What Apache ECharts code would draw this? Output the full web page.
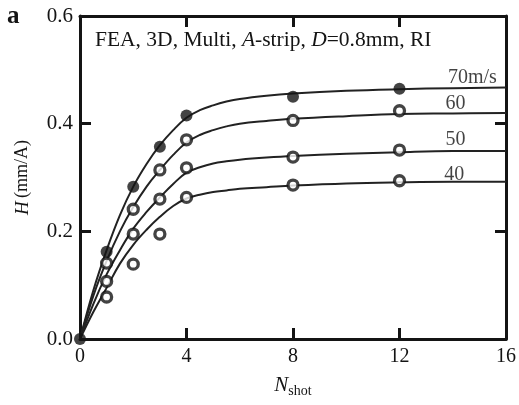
<!DOCTYPE html>
<html><head><meta charset="utf-8">
<script src="https://cdn.jsdelivr.net/npm/echarts@6/dist/echarts.min.js"></script>
<style>html,body{margin:0;padding:0;background:#fff}#c{width:519px;height:405px}</style>
</head><body><div id="c"></div>
<script>
// Tick values
const xTicks = [0, 4, 8, 12, 16];
const yTicks = [0, 0.2, 0.4, 0.6];
// Fitted curve sample abscissae and values
const curveN = [0, 0.5, 1, 1.5, 2, 2.5, 3, 3.5, 4, 4.5, 5, 5.5, 6, 7, 8, 10, 12, 14, 16];
const curve70 = [0, 0.09, 0.165, 0.23, 0.283, 0.325, 0.360, 0.388, 0.411, 0.425, 0.434, 0.441, 0.446, 0.452, 0.456, 0.461, 0.464, 0.466, 0.467];
const curve60 = [0, 0.08, 0.145, 0.20, 0.245, 0.283, 0.314, 0.342, 0.365, 0.379, 0.388, 0.395, 0.400, 0.405, 0.409, 0.414, 0.418, 0.419, 0.420];
const curve50 = [0, 0.065, 0.12, 0.165, 0.205, 0.236, 0.263, 0.288, 0.309, 0.319, 0.326, 0.330, 0.333, 0.337, 0.340, 0.344, 0.347, 0.349, 0.349];
const curve40 = [0, 0.05, 0.095, 0.14, 0.175, 0.203, 0.227, 0.247, 0.261, 0.268, 0.273, 0.276, 0.279, 0.282, 0.285, 0.289, 0.291, 0.292, 0.292];
// Simulation points
const pointN = [1, 2, 3, 4, 8, 12];
const pts70 = [0.162, 0.283, 0.357, 0.415, 0.450, 0.465];
const pts60 = [0.141, 0.241, 0.314, 0.370, 0.406, 0.424];
const pts50 = [0.107, 0.195, 0.260, 0.318, 0.338, 0.351];
const pts40 = [0.078, 0.139, 0.195, 0.263, 0.286, 0.294];
const origin = [[0, 0]];
// Curve labels
const labelText = ['70m/s', '60', '50', '40'];
const labelN = [14.74, 14.1, 14.1, 14.06];
const labelH = [0.485, 0.437, 0.370, 0.305];

const FONT = '"Liberation Serif","DejaVu Serif",serif';
const INK = '#141414';
const zip = (xs, ys) => xs.map((x, i) => [x, ys[i]]);

const chart = echarts.init(document.getElementById('c'), null, {renderer: 'canvas'});

function curve(vals) {
  return {type: 'line', data: zip(curveN, vals), smooth: 0.4, showSymbol: false, silent: true,
    lineStyle: {color: '#222', width: 2}, z: 2, xAxisIndex: 0, yAxisIndex: 0};
}
function pts(vals, filled) {
  return {type: 'scatter', data: zip(pointN, vals), symbol: 'circle', symbolSize: filled ? 12 : 10,
    itemStyle: {color: filled ? INK : '#fff', borderColor: INK, borderWidth: filled ? 0 : 3.3}, z: 3,
    xAxisIndex: 0, yAxisIndex: 0};
}
const axisLineStyle = {lineStyle: {color: INK, width: 3}};
const tickStyle = {show: true, inside: true, length: 11, lineStyle: {color: INK, width: 3}};

chart.setOption({
  animation: false,
  backgroundColor: '#fff',
  grid: {left: 80, right: 13, top: 16, bottom: 66, containLabel: false},
  xAxis: [
    {type: 'value', min: 0, max: 16, interval: 4, position: 'bottom',
     axisLine: {show: true, onZero: false, ...axisLineStyle}, axisTick: tickStyle,
     splitLine: {show: false},
     axisLabel: {fontFamily: FONT, fontSize: 20, color: INK, margin: 8},
     name: '{n|N}{s|shot}', nameLocation: 'middle', nameGap: 33,
     nameTextStyle: {rich: {
       n: {fontFamily: FONT, fontSize: 21, fontStyle: 'italic', color: INK},
       s: {fontFamily: FONT, fontSize: 14, color: INK, verticalAlign: 'bottom', padding: [12, 0, 0, 0]}}}},
    {type: 'value', min: 0, max: 16, interval: 4, position: 'top',
     axisLine: {show: true, onZero: false, ...axisLineStyle}, axisTick: tickStyle,
     splitLine: {show: false}, axisLabel: {show: false}}
  ],
  yAxis: [
    {type: 'value', min: 0, max: 0.6, interval: 0.2, position: 'left',
     axisLine: {show: true, onZero: false, ...axisLineStyle}, axisTick: tickStyle,
     splitLine: {show: false},
     axisLabel: {fontFamily: FONT, fontSize: 21, color: INK, margin: 7,
       formatter: v => v.toFixed(1)},
     name: '{h|H} {t|(mm/A)}', nameLocation: 'middle', nameGap: 48, nameRotate: 90,
     nameTextStyle: {rich: {
       h: {fontFamily: FONT, fontSize: 19, fontStyle: 'italic', color: INK},
       t: {fontFamily: FONT, fontSize: 18, color: INK}}}},
    {type: 'value', min: 0, max: 0.6, interval: 0.2, position: 'right',
     axisLine: {show: true, onZero: false, ...axisLineStyle}, axisTick: tickStyle,
     splitLine: {show: false}, axisLabel: {show: false}}
  ],
  series: [
    curve(curve70), curve(curve60), curve(curve50), curve(curve40),
    pts(pts70, true), pts(pts60, false), pts(pts50, false), pts(pts40, false),
    {type: 'scatter', data: origin, symbolSize: 12, itemStyle: {color: INK}, z: 4},
    {type: 'scatter', data: labelText.map((t, i) => ({value: [labelN[i], labelH[i]], name: t})),
     symbolSize: 0, silent: true, z: 5,
     label: {show: true, position: 'inside', formatter: p => p.name,
       fontFamily: FONT, fontSize: 20, color: INK}}
  ],
  graphic: [
    {type: 'text', left: 95, top: 29, style: {
      text: '{r|FEA, 3D, Multi, }{i|A}{r|-strip, }{i|D}{r|=0.8mm, RI}',
      rich: {r: {fontFamily: FONT, fontSize: 21.5, fill: INK}, i: {fontFamily: FONT, fontSize: 21.5, fontStyle: 'italic', fill: INK}}}},
    {type: 'text', left: 7, top: 4, style: {text: 'a', font: 'bold 25px ' + FONT, fill: INK}}
  ]
});
</script></body></html>
